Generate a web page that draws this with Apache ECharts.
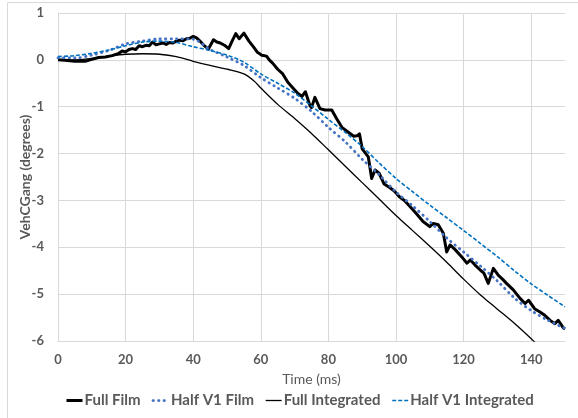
<!DOCTYPE html>
<html>
<head>
<meta charset="utf-8">
<script src="https://cdn.jsdelivr.net/npm/echarts@6/dist/echarts.min.js"></script>
<style>
  html, body { margin: 0; padding: 0; background: #ffffff; }
  #chart { width: 578px; height: 418px; }
</style>
</head>
<body>
<div id="chart"></div>
<script>
// Axis ticks
const xTicks = [0, 20, 40, 60, 80, 100, 120, 140];
const xEnd = 150;
const yTicks = [-6, -5, -4, -3, -2, -1, 0, 1];

// Full Film (measured, noisy)
const fullFilmT = [0, 2, 5, 8, 10, 12, 14, 16, 18, 19, 20, 21, 22, 23, 24, 25, 26, 27, 28, 29, 30, 31, 32, 33, 34, 35, 36, 37, 38, 39, 40, 41, 42, 43, 44.5, 46, 47, 48, 49.5, 50.5, 51.5, 52.6, 53.6, 55, 56.5, 58, 59, 60.3, 61.7, 62.5, 63.5, 65, 66.5, 68, 69.5, 71, 72.2, 73.2, 74.5, 75, 76, 77.5, 79, 81, 82.4, 84, 86, 87.5, 88.5, 89.2, 90, 91.8, 92.8, 93.8, 95, 96.5, 98, 99.5, 101, 102.5, 104, 106, 108, 110, 111, 112.5, 114, 115, 116, 117.5, 119.4, 121, 122, 123.4, 125, 126, 127.3, 128.8, 130.3, 131.5, 132.7, 134.7, 136.7, 138.2, 139.2, 141, 142.6, 144, 145.6, 147, 148, 149.5, 150];
const fullFilmV = [0, -0.01, -0.03, -0.03, 0.01, 0.05, 0.06, 0.09, 0.14, 0.19, 0.17, 0.22, 0.24, 0.22, 0.3, 0.28, 0.31, 0.3, 0.38, 0.32, 0.34, 0.36, 0.33, 0.37, 0.36, 0.4, 0.42, 0.41, 0.45, 0.46, 0.5, 0.47, 0.4, 0.32, 0.23, 0.43, 0.38, 0.36, 0.3, 0.24, 0.4, 0.56, 0.45, 0.57, 0.4, 0.26, 0.16, 0.1, 0.08, 0.0, -0.07, -0.2, -0.3, -0.48, -0.6, -0.72, -0.78, -0.68, -0.97, -1.02, -0.8, -1.04, -1.07, -1.07, -1.25, -1.44, -1.55, -1.63, -1.62, -1.58, -1.9, -2.07, -2.53, -2.35, -2.42, -2.65, -2.72, -2.8, -2.92, -3.0, -3.12, -3.28, -3.45, -3.56, -3.49, -3.52, -3.7, -4.1, -3.95, -4.05, -4.2, -4.34, -4.27, -4.38, -4.49, -4.55, -4.77, -4.45, -4.6, -4.68, -4.77, -4.91, -5.09, -5.2, -5.13, -5.31, -5.38, -5.45, -5.56, -5.63, -5.56, -5.72, -5.74];

// Half V1 Film
const halfFilmT = [0, 5, 10, 15, 20, 25, 30, 35, 40, 45, 50, 55, 60, 65, 70, 75, 80, 85, 90, 95, 100, 105, 110, 115, 120, 125, 130, 135, 140, 145, 150];
const halfFilmV = [0.04, 0.04, 0.1, 0.2, 0.34, 0.4, 0.45, 0.45, 0.44, 0.22, 0.06, -0.12, -0.38, -0.6, -0.82, -1.1, -1.44, -1.75, -2.12, -2.45, -2.82, -3.12, -3.45, -3.8, -4.1, -4.4, -4.72, -5.08, -5.35, -5.56, -5.73];

// Full Integrated
const fullIntT = [0, 5, 10, 15, 20, 25, 30, 35, 40, 45, 50, 55, 58, 60, 65, 70, 75, 80, 85, 90, 95, 100, 105, 110, 115, 120, 125, 128, 130, 135, 140, 145, 150];
const fullIntV = [0.0, 0.0, 0.03, 0.08, 0.12, 0.13, 0.12, 0.07, -0.03, -0.12, -0.2, -0.3, -0.45, -0.6, -0.95, -1.25, -1.57, -1.92, -2.27, -2.62, -2.97, -3.32, -3.65, -3.98, -4.32, -4.68, -5.02, -5.2, -5.32, -5.62, -5.95, -6.3, -6.65];

// Half V1 Integrated
const halfIntT = [0, 5, 10, 15, 20, 25, 30, 35, 40, 45, 50, 55, 60, 65, 70, 75, 80, 85, 90, 95, 100, 105, 110, 115, 120, 125, 130, 135, 140, 145, 150];
const halfIntV = [0.07, 0.09, 0.14, 0.21, 0.3, 0.38, 0.4, 0.37, 0.28, 0.2, 0.1, -0.05, -0.3, -0.5, -0.71, -0.98, -1.27, -1.55, -1.85, -2.2, -2.53, -2.82, -3.1, -3.37, -3.64, -3.92, -4.2, -4.5, -4.78, -5.03, -5.27];

const seriesNames = ['Full Film', 'Half V1 Film', 'Full Integrated', 'Half V1 Integrated'];

function pairs(t, v) { return t.map((x, i) => [x, v[i]]); }

const textGray = '#595959';
const gridGray = '#d9d9d9';
const font = 'Lato, "Open Sans", sans-serif';

// Line styles shared by each series and its legend entry
const styles = [
  { color: '#000000', width: 3, type: 'solid', join: 'round' },
  { color: '#4472c4', width: 2.75, type: [0.5, 5], cap: 'round' },
  { color: '#000000', width: 1.3, type: 'solid' },
  { color: '#0070c0', width: 1.6, type: [4, 2] }
];

const chart = echarts.init(document.getElementById('chart'), null, { renderer: 'canvas' });

chart.setOption({
  animation: false,
  backgroundColor: '#ffffff',
  graphic: [{
    type: 'rect',
    shape: { x: 7.5, y: 2.5, width: 700, height: 600 },
    style: { fill: 'none', stroke: gridGray, lineWidth: 1 },
    silent: true, z: -10
  }],
  grid: { left: 58, right: 13, top: 13, bottom: 77 },
  xAxis: {
    type: 'value',
    min: xTicks[0], max: xEnd, interval: xTicks[1] - xTicks[0],
    name: 'Time (ms)', nameLocation: 'middle', nameGap: 31, nameMoveOverlap: false,
    nameTextStyle: { color: textGray, fontSize: 14, fontFamily: font },
    axisLine: { show: true, onZero: false, lineStyle: { color: gridGray } },
    axisTick: { show: false },
    axisLabel: { color: textGray, fontSize: 13, fontWeight: 'bold', fontFamily: font, margin: 12, showMaxLabel: false },
    splitLine: { show: true, showMaxLine: false, lineStyle: { color: gridGray, width: 1 } }
  },
  yAxis: {
    type: 'value',
    min: yTicks[0], max: yTicks[yTicks.length - 1], interval: yTicks[1] - yTicks[0],
    name: 'VehCGang (degrees)', nameLocation: 'middle', nameGap: 26, nameRotate: 90, nameMoveOverlap: false,
    nameTextStyle: { color: textGray, fontSize: 14, fontWeight: 'bold', fontFamily: font },
    axisLine: { show: true, lineStyle: { color: gridGray } },
    axisTick: { show: false },
    axisLabel: { color: textGray, fontSize: 13, fontWeight: 'bold', fontFamily: font, margin: 14 },
    splitLine: { show: true, lineStyle: { color: gridGray, width: 1 } }
  },
  legend: {
    bottom: 5, left: 60,
    itemWidth: 16, itemHeight: 10, itemGap: 11,
    itemStyle: { opacity: 0 },
    textStyle: { color: textGray, fontSize: 15, fontWeight: 'bold', fontFamily: font, padding: [0, 0, 0, -3] },
    data: seriesNames.map((name, i) => ({ name: name, lineStyle: Object.assign({}, styles[i]) }))
  },
  series: seriesNames.map((name, i) => ({
    name: name,
    type: 'line',
    symbol: 'none',
    smooth: i === 0 ? false : 0.3,
    data: i === 0 ? pairs(fullFilmT, fullFilmV)
        : i === 1 ? pairs(halfFilmT, halfFilmV)
        : i === 2 ? pairs(fullIntT, fullIntV)
        : pairs(halfIntT, halfIntV),
    lineStyle: Object.assign({}, styles[i]),
    itemStyle: { color: styles[i].color },
    z: 2 + i
  }))
});
</script>
</body>
</html>
